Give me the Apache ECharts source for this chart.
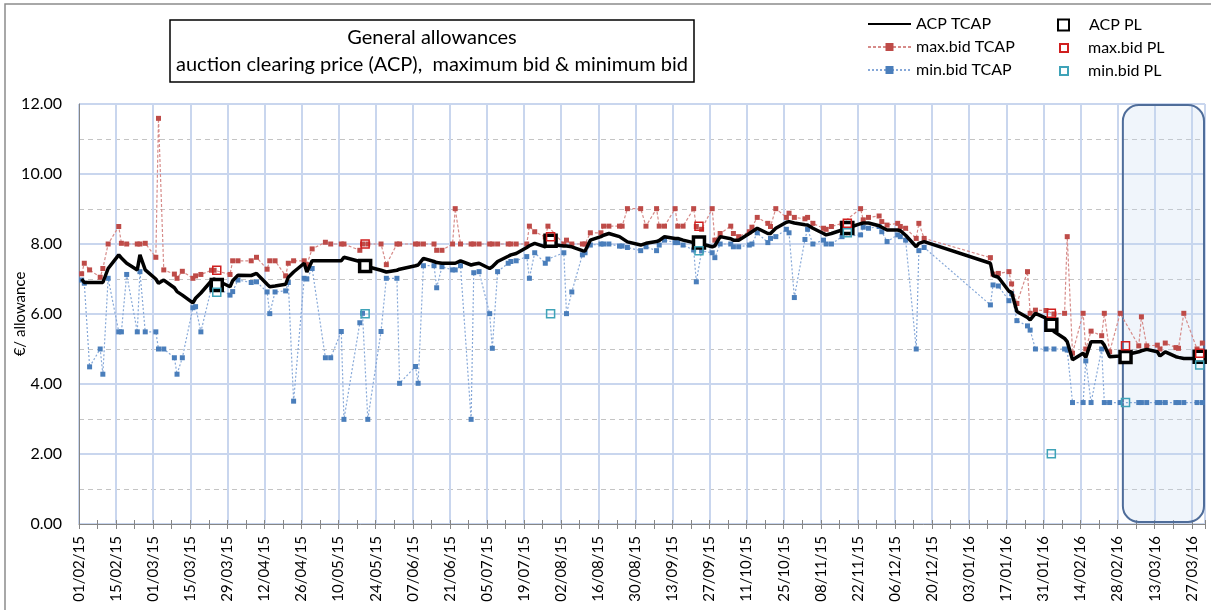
<!DOCTYPE html>
<html>
<head>
<meta charset="utf-8">
<script src="https://cdn.jsdelivr.net/npm/echarts/dist/echarts.min.js"></script>
<style>
html, body { margin: 0; padding: 0; background: #fff; }
#chart { width: 1211px; height: 610px; }
</style>
</head>
<body>
<div id="chart"></div>
<script>
// days since 01/02/2015
var tcapDays = [1, 2, 4, 8, 9, 11, 15, 16, 18, 22, 23, 25, 29, 30, 32, 36, 37, 39, 43, 44, 46, 50, 51, 57, 58, 60,
    65, 67, 71, 72, 74, 78, 79, 81, 85, 86, 88, 93, 95, 99, 100, 106, 107, 109, 114, 116, 120, 121, 127, 128, 130,
    134, 135, 137, 141, 142, 144, 148, 149, 151, 155, 156, 158, 162, 163, 165, 169, 170, 172, 176, 177, 183, 184, 186,
    190, 191, 193, 197, 198, 200, 204, 205, 207, 212, 214, 218, 219, 221, 225, 226, 228, 232, 233, 235, 239, 240, 242,
    246, 247, 249, 253, 254, 256, 260, 261, 263, 267, 268, 270, 274, 275, 277, 281, 282, 284, 288, 295, 296, 298,
    302, 303, 305, 309, 310, 312, 316, 317, 319, 344, 345, 347, 351, 352, 354, 358, 359, 361, 365, 368, 372, 373,
    375, 379, 380, 382, 386, 387, 389, 393, 400, 401, 403, 407, 408, 410, 414, 415, 417, 422, 424];

var acpTcap = [7.0, 6.9, 6.9, 6.9, 6.9, 7.3, 7.69, 7.6, 7.45, 7.26, 7.69, 7.26, 7.0, 6.88, 6.97, 6.75, 6.64, 6.54, 6.32, 6.45, 6.6, 6.95, 7.0, 6.78, 6.95, 7.11,
    7.1, 7.16, 6.85, 6.78, 6.8, 6.85, 7.05, 7.2, 7.45, 7.2, 7.52, 7.52, 7.52, 7.52, 7.62, 7.5, 7.42, 7.35, 7.25, 7.2, 7.25, 7.28, 7.38, 7.4, 7.59,
    7.5, 7.47, 7.45, 7.45, 7.45, 7.52, 7.4, 7.42, 7.45, 7.3, 7.35, 7.5, 7.65, 7.69, 7.73, 7.9, 7.95, 8.02, 7.92, 8.0, 7.94, 7.94, 7.92,
    7.81, 7.8, 8.11, 8.21, 8.25, 8.3, 8.21, 8.16, 8.06, 7.97, 8.02, 8.07, 8.1, 8.21, 8.16, 8.16, 8.11, 8.04, 8.02, 8.0, 7.92, 7.95, 8.21,
    8.15, 8.11, 8.11, 8.3, 8.35, 8.45, 8.3, 8.3, 8.45, 8.62, 8.64, 8.6, 8.55, 8.54, 8.45, 8.3, 8.26, 8.3, 8.4, 8.58, 8.6, 8.6,
    8.52, 8.48, 8.4, 8.4, 8.38, 8.25, 7.92, 8.02, 8.07, 7.45, 7.1, 7.05, 6.65, 6.62, 6.07, 5.9, 5.83, 6.02, 5.88, 5.5, 5.3, 5.21,
    4.69, 4.88, 4.76, 5.21, 5.21, 5.11, 4.78, 4.8, 4.92, 4.95, 4.99, 4.92, 4.8, 4.92, 4.78, 4.76, 4.73, 4.73, 4.75];

var maxTcap = [7.15, 7.45, 7.26, 7.05, 7.3, 8.0, 8.5, 8.02, 8.0, 8.0, 8.0, 8.02, 7.62, 11.59, 7.26, 7.14, 7.02, 7.22, 7.02, 7.09, 7.13, 7.25, 7.25, 7.13, 7.52, 7.52,
    7.52, 7.62, 7.28, 7.52, 7.52, 7.09, 7.45, 7.52, 7.52, 7.41, 7.86, 8.05, 8.0, 8.0, 8.0, 7.82, 8.0, 8.0, 8.0, 7.41, 8.0, 8.0, 8.0, 8.0, 8.0,
    8.0, 7.82, 7.82, 8.0, 9.01, 8.0, 8.0, 8.0, 8.0, 8.0, 8.0, 8.0, 8.0, 8.0, 8.0, 8.0, 8.51, 8.35, 8.2, 8.51, 8.0, 8.11, 8.0,
    8.0, 8.0, 8.32, 8.32, 8.51, 8.51, 8.51, 8.51, 9.01, 9.01, 8.51, 9.01, 8.51, 8.51, 9.01, 8.51, 8.51, 9.01, 8.5, 8.42, 9.01, 8.11, 8.3,
    8.51, 8.3, 8.21, 8.35, 8.48, 8.76, 8.59, 8.5, 9.01, 8.76, 8.88, 8.76, 8.72, 8.76, 8.59, 8.45, 8.42, 8.5, 8.59, 9.01, 8.69, 8.76,
    8.8, 8.64, 8.54, 8.59, 8.5, 8.45, 8.16, 8.59, 8.16, 7.61, 7.14, 7.16, 7.21, 6.86, 6.3, 7.21, 6.02, 6.11, 6.1, 6.0, 6.02, 8.21,
    4.88, 6.02, 5.0, 5.51, 5.38, 6.02, 4.92, 6.02, 5.09, 5.92, 5.09, 5.11, 5.0, 5.17, 5.04, 5.02, 6.02, 5.0, 5.17];

var minTcap = [6.97, 6.88, 4.49, 5.0, 4.28, 7.02, 5.49, 5.49, 7.13, 5.49, 7.21, 5.49, 5.49, 5.0, 5.0, 4.75, 4.28, 4.75, 6.18, 6.21, 5.49, 6.75, 6.8, 6.54, 6.64, 6.97,
    6.9, 6.92, 6.63, 6.01, 6.63, 6.66, 6.9, 3.51, 7.02, 7.0, 7.3, 4.75, 4.75, 5.5, 2.99, 5.75, 6.02, 2.99, 5.5, 7.02, 7.02, 4.02, 4.5, 4.02, 7.38,
    7.38, 6.75, 7.35, 7.26, 7.26, 7.38, 2.99, 7.18, 7.21, 6.01, 5.02, 7.21, 7.45, 7.5, 7.52, 7.64, 7.02, 7.75, 7.45, 7.57, 7.75, 6.01, 6.63,
    7.69, 7.75, 7.97, 8.0, 8.0, 8.0, 7.94, 7.94, 7.9, 7.81, 7.92, 7.81, 7.97, 8.11, 8.04, 8.04, 7.97, 7.83, 6.92, 7.8, 7.75, 7.61, 8.0,
    8.0, 7.92, 7.92, 7.97, 8.0, 8.32, 8.04, 8.16, 8.21, 8.42, 8.32, 6.47, 8.13, 8.42, 8.0, 8.11, 8.0, 8.0, 8.21, 8.26, 8.48, 8.45,
    8.5, 8.35, 8.07, 8.26, 8.21, 8.11, 5.0, 7.81, 7.9, 6.26, 6.83, 6.8, 6.38, 6.58, 5.81, 5.66, 5.54, 5.0, 5.0, 5.0, 5.0, 4.97,
    3.47, 3.47, 4.66, 3.47, 5.0, 3.47, 3.47, 3.47, 3.47, 3.47, 3.47, 3.47, 3.47, 3.47, 3.47, 3.47, 3.47, 3.47, 3.47];

var plDays = [52, 108, 178, 234, 290, 367, 395, 423];
var acpPl = [6.83, 7.37, 8.09, 8.04, 8.46, 5.69, 4.77, 4.78];
var maxPl = [7.25, 8.0, 8.21, 8.51, 8.59, 6.02, 5.09, 4.88];
var minPl = [6.62, 6.01, 6.01, 7.81, 8.32, 2.01, 3.47, 4.54];

var yTicks = [0, 2, 4, 6, 8, 10, 12];
var xStep = 14;          // label every two weeks
var xEnd = 425;          // 01/04/2016
var boxFrom = 394;       // highlighted period starts 01/03/2016

var baseDate = Date.UTC(2015, 1, 1);
function dayLabel(d) {
    var dt = new Date(baseDate + d * 86400000);
    var dd = ('0' + dt.getUTCDate()).slice(-2);
    var mm = ('0' + (dt.getUTCMonth() + 1)).slice(-2);
    var yy = String(dt.getUTCFullYear()).slice(-2);
    return dd + '/' + mm + '/' + yy;
}
function pairs(days, vals) {
    return days.map(function (d, i) { return [d, vals[i]]; });
}

var font = 'Lato, "Open Sans", sans-serif';
var gridBlue = '#c9d6ee';
var legendText = { fontFamily: font, fontSize: 16, color: '#000' };
// square icon kept centred in a wide legend slot, leaves room before the text
var squareIcon = 'path://M0,0H10V10H0Z';

var myChart = echarts.init(document.getElementById('chart'));
var option = {
    animation: false,
    backgroundColor: '#fff',
    textStyle: { fontFamily: font },
    grid: { left: 79, right: 6, top: 104, bottom: 86, containLabel: false, outerBoundsMode: 'none' },
    legend: [
        {
            data: [{ name: 'ACP TCAP', itemStyle: { opacity: 0 } }, 'max.bid TCAP', 'min.bid TCAP'],
            orient: 'vertical', align: 'left', left: 867, top: 16, padding: 0,
            itemWidth: 43, itemHeight: 10, itemGap: 7,
            textStyle: legendText
        },
        {
            data: [{ name: 'ACP PL', icon: squareIcon }],
            orient: 'vertical', align: 'left', left: 1057, top: 17, padding: 0,
            itemWidth: 41, itemHeight: 11, symbolKeepAspect: true,
            textStyle: legendText
        },
        {
            data: [{ name: 'max.bid PL', icon: squareIcon }, { name: 'min.bid PL', icon: squareIcon }],
            orient: 'vertical', align: 'left', left: 1059, top: 40, padding: 0,
            itemWidth: 38, itemHeight: 8, itemGap: 7, symbolKeepAspect: true,
            textStyle: legendText
        }
    ],
    xAxis: [
        {
            type: 'value', min: 0, max: xEnd, interval: xStep,
            axisLine: { lineStyle: { color: '#868686', width: 1 } },
            axisTick: { show: true, length: 5, lineStyle: { color: '#868686' } },
            minorTick: { show: true, splitNumber: 2, length: 5, lineStyle: { color: '#868686' } },
            axisLabel: {
                rotate: 90, margin: 12, fontSize: 15, color: '#000', fontFamily: font,
                formatter: function (v) { return v % xStep === 0 ? dayLabel(v) : ''; }
            },
            splitLine: { show: true, lineStyle: { color: gridBlue, width: 2 } }
        },
        {
            type: 'value', min: 0, max: xEnd, interval: xStep, position: 'bottom',
            axisLine: { show: false },
            axisTick: { show: true, inside: true, length: 4, lineStyle: { color: '#868686' } },
            minorTick: { show: true, splitNumber: 2, length: 4, lineStyle: { color: '#868686' } },
            axisLabel: { show: false },
            splitLine: { show: false }
        }
    ],
    yAxis: {
        type: 'value', min: yTicks[0], max: yTicks[yTicks.length - 1], interval: 2,
        name: '€/ allowance', nameLocation: 'middle', nameGap: 51, nameRotate: 90, nameMoveOverlap: false,
        nameTextStyle: { fontSize: 15, color: '#000', fontFamily: font },
        axisLine: { show: true, lineStyle: { color: '#868686' } },
        axisTick: { show: false },
        axisLabel: { fontSize: 16, color: '#000', margin: 17, fontFamily: font,
            formatter: function (v) { return v.toFixed(2); } },
        splitLine: { lineStyle: { color: gridBlue, width: 2 } },
        minorTick: { show: false, splitNumber: 2 },
        minorSplitLine: { show: true, lineStyle: { color: '#c4c4c4', type: [5, 4], width: 1 } }
    },
    series: [
        {
            name: 'min.bid TCAP', type: 'line', data: pairs(tcapDays, minTcap),
            symbol: 'rect', symbolSize: 5, z: 3,
            itemStyle: { color: '#4a7ebb' },
            lineStyle: { color: '#86a8d8', width: 1.2, type: [2, 2] }
        },
        {
            name: 'max.bid TCAP', type: 'line', data: pairs(tcapDays, maxTcap),
            symbol: 'rect', symbolSize: 5, z: 3,
            itemStyle: { color: '#be4b48' },
            lineStyle: { color: '#d68b89', width: 1.2, type: [3, 2] }
        },
        {
            name: 'ACP TCAP', type: 'line', data: pairs(tcapDays, acpTcap),
            symbol: 'none', z: 4,
            itemStyle: { color: '#000' },
            lineStyle: { color: '#000', width: 3.5 }
        },
        {
            name: 'ACP PL', type: 'scatter', data: pairs(plDays, acpPl),
            symbol: 'rect', symbolSize: 11, z: 5,
            itemStyle: { color: '#fff', borderColor: '#000', borderWidth: 3.5, opacity: 1 }
        },
        {
            name: 'max.bid PL', type: 'scatter', data: pairs(plDays, maxPl),
            symbol: 'rect', symbolSize: 8, z: 6,
            itemStyle: { color: 'rgba(255,255,255,0)', borderColor: '#d01f1f', borderWidth: 1.5, opacity: 1 }
        },
        {
            name: 'min.bid PL', type: 'scatter', data: pairs(plDays, minPl),
            symbol: 'rect', symbolSize: 8, z: 6,
            itemStyle: { color: 'rgba(255,255,255,0)', borderColor: '#3fa3b8', borderWidth: 1.5, opacity: 1 }
        }
    ]
};
myChart.setOption(option);

// frame, title box and the shaded period box
var p0 = myChart.convertToPixel({ gridIndex: 0 }, [boxFrom, yTicks[yTicks.length - 1]]);
var p1 = myChart.convertToPixel({ gridIndex: 0 }, [xEnd, yTicks[0]]);
myChart.setOption({
    graphic: [
        { type: 'rect', z: -10, silent: true,
          shape: { x: 5, y: 4, width: 1215, height: 620 },
          style: { fill: 'none', stroke: '#8c8c8c', lineWidth: 1.5 } },
        { type: 'rect', z: 1, silent: true,
          shape: { x: p0[0], y: p0[1] + 1, width: p1[0] - p0[0] - 1, height: p1[1] - p0[1] - 3, r: 16 },
          style: { fill: 'rgba(196,214,240,0.25)', stroke: '#4f6d9a', lineWidth: 2 } },
        { type: 'rect', silent: true,
          shape: { x: 170, y: 20, width: 524, height: 62 },
          style: { fill: '#fff', stroke: '#000', lineWidth: 1.5 } },
        { type: 'text', silent: true, x: 432, y: 38,
          style: { text: 'General allowances', font: '20px ' + font, fill: '#000', align: 'center', verticalAlign: 'middle' } },
        { type: 'text', silent: true, x: 432, y: 65,
          style: { text: 'auction clearing price (ACP),  maximum bid & minimum bid', font: '20px ' + font, fill: '#000', align: 'center', verticalAlign: 'middle' } }
    ]
});
</script>
</body>
</html>
